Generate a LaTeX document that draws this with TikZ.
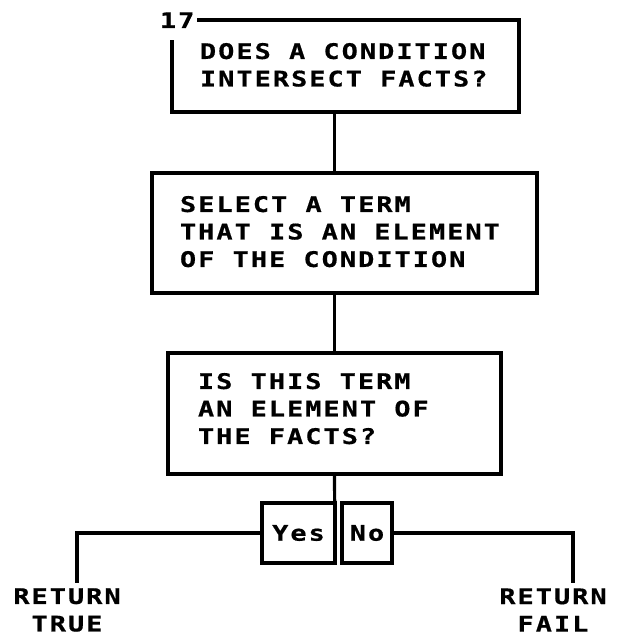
\documentclass[tikz,border=0pt]{standalone}
\usepackage{fontspec}
\newfontfamily\plotfont{DejaVu Sans Mono}[UprightFont=* Bold, FakeStretch=1.25, LetterSpace=9.5, FakeBold=0.6]
\begin{document}
\begin{tikzpicture}[x=1pt,y=-1pt,
  every node/.style={inner sep=0pt, outer sep=0pt},
  wire/.style={line width=3.2pt},
  box/.style={draw, line width=3.2pt},
  lettering/.style={font={\plotfont\fontsize{21.5}{27.5}\selectfont}},
  txt/.style={lettering, align=left, anchor=north west},
]
\useasboundingbox (0,0) rectangle (625,639);

% process boxes
\node (b1) at (345.5,66) [minimum width=347, minimum height=92] {};
\node (b2) at (344.5,233) [box, minimum width=385, minimum height=120] {};
\node (b3) at (334.5,413.5) [box, minimum width=333, minimum height=121] {};

% step number and the open corner of the first box
\node (n17) [lettering, anchor=base west] at (160,28) {17};
\draw[wire] ([xshift=25pt]b1.north west) -- (b1.north east) -- (b1.south east)
  -- (b1.south west) -- ([yshift=-20pt]b1.north west);

% box texts
\node (t1) [txt] at (200,43) {DOES A CONDITION\\INTERSECT FACTS?};
\node (t2) [txt] at (180,196) {SELECT A TERM\\THAT IS AN ELEMENT\\OF THE CONDITION};
\node (t3) [txt] at (198,373) {IS THIS TERM\\AN ELEMENT OF\\THE FACTS?};

% answer boxes
\node (yes) at (298.5,533) [box, minimum width=73, minimum height=60, lettering] {Yes};
\node (no) at (367,533) [box, minimum width=50, minimum height=60, lettering] {No};

% results
\node (rtrue) [lettering, align=center] at (67,610) {RETURN\\TRUE};
\node (rfail) [lettering, align=center] at (553,610) {RETURN\\FAIL};
\coordinate (tend) at (77,583);
\coordinate (fend) at (573,583);

% connectors
\draw[wire] (b1.south -| b3.north) -- (b2.north -| b3.north);
\draw[wire] (b2.south -| b3.north) -- (b3.north);
\draw[wire] (b3.south) -- (yes.south east);
\draw[wire] (yes.west) -| (tend);
\draw[wire] (no.east) -| (fend);
\end{tikzpicture}
\end{document}
